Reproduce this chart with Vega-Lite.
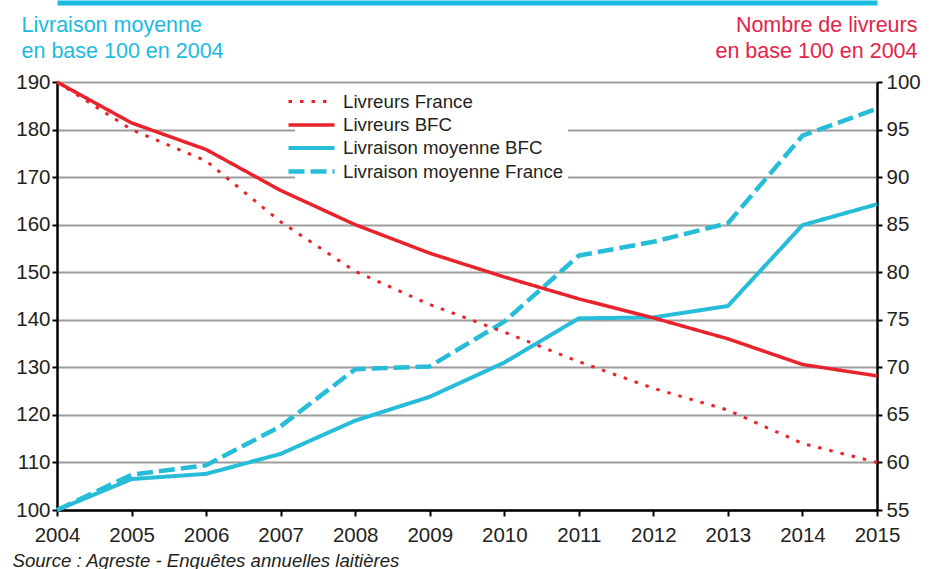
{
  "$schema": "https://vega.github.io/schema/vega-lite/v6.json",
  "width": 820,
  "height": 428,
  "autosize": {"type": "none"},
  "padding": {"left": 57, "top": 82, "right": 60, "bottom": 59},
  "background": "white",
  "config": {
    "font": "Liberation Sans",
    "view": {"stroke": null},
    "axis": {"labelColor": "#231F20", "labelFont": "Liberation Sans", "titleFont": "Liberation Sans", "titleFontWeight": "normal"}
  },
  "data": {
    "values": [
      {"annee": 2004, "serie": "Livraison moyenne France", "valeur": 100},
      {"annee": 2005, "serie": "Livraison moyenne France", "valeur": 107.4},
      {"annee": 2006, "serie": "Livraison moyenne France", "valeur": 109.4},
      {"annee": 2007, "serie": "Livraison moyenne France", "valeur": 117.6},
      {"annee": 2008, "serie": "Livraison moyenne France", "valeur": 129.6},
      {"annee": 2009, "serie": "Livraison moyenne France", "valeur": 130.2},
      {"annee": 2010, "serie": "Livraison moyenne France", "valeur": 139.6},
      {"annee": 2011, "serie": "Livraison moyenne France", "valeur": 153.5},
      {"annee": 2012, "serie": "Livraison moyenne France", "valeur": 156.4},
      {"annee": 2013, "serie": "Livraison moyenne France", "valeur": 160.3},
      {"annee": 2014, "serie": "Livraison moyenne France", "valeur": 178.7},
      {"annee": 2015, "serie": "Livraison moyenne France", "valeur": 184.4},
      {"annee": 2004, "serie": "Livraison moyenne BFC", "valeur": 100},
      {"annee": 2005, "serie": "Livraison moyenne BFC", "valeur": 106.5},
      {"annee": 2006, "serie": "Livraison moyenne BFC", "valeur": 107.6},
      {"annee": 2007, "serie": "Livraison moyenne BFC", "valeur": 111.8},
      {"annee": 2008, "serie": "Livraison moyenne BFC", "valeur": 118.8},
      {"annee": 2009, "serie": "Livraison moyenne BFC", "valeur": 123.8},
      {"annee": 2010, "serie": "Livraison moyenne BFC", "valeur": 131.0},
      {"annee": 2011, "serie": "Livraison moyenne BFC", "valeur": 140.3},
      {"annee": 2012, "serie": "Livraison moyenne BFC", "valeur": 140.5},
      {"annee": 2013, "serie": "Livraison moyenne BFC", "valeur": 142.9},
      {"annee": 2014, "serie": "Livraison moyenne BFC", "valeur": 159.9},
      {"annee": 2015, "serie": "Livraison moyenne BFC", "valeur": 164.3},
      {"annee": 2004, "serie": "Livreurs BFC", "valeur": 100},
      {"annee": 2005, "serie": "Livreurs BFC", "valeur": 95.7},
      {"annee": 2006, "serie": "Livreurs BFC", "valeur": 92.9},
      {"annee": 2007, "serie": "Livreurs BFC", "valeur": 88.6},
      {"annee": 2008, "serie": "Livreurs BFC", "valeur": 85.0},
      {"annee": 2009, "serie": "Livreurs BFC", "valeur": 82.0},
      {"annee": 2010, "serie": "Livreurs BFC", "valeur": 79.5},
      {"annee": 2011, "serie": "Livreurs BFC", "valeur": 77.2},
      {"annee": 2012, "serie": "Livreurs BFC", "valeur": 75.2},
      {"annee": 2013, "serie": "Livreurs BFC", "valeur": 73.0},
      {"annee": 2014, "serie": "Livreurs BFC", "valeur": 70.3},
      {"annee": 2015, "serie": "Livreurs BFC", "valeur": 69.1},
      {"annee": 2004, "serie": "Livreurs France", "valeur": 100},
      {"annee": 2005, "serie": "Livreurs France", "valeur": 95.0},
      {"annee": 2006, "serie": "Livreurs France", "valeur": 91.7},
      {"annee": 2007, "serie": "Livreurs France", "valeur": 85.3},
      {"annee": 2008, "serie": "Livreurs France", "valeur": 80.1},
      {"annee": 2009, "serie": "Livreurs France", "valeur": 76.6},
      {"annee": 2010, "serie": "Livreurs France", "valeur": 73.7},
      {"annee": 2011, "serie": "Livreurs France", "valeur": 70.6},
      {"annee": 2012, "serie": "Livreurs France", "valeur": 67.8},
      {"annee": 2013, "serie": "Livreurs France", "valeur": 65.5},
      {"annee": 2014, "serie": "Livreurs France", "valeur": 62.0},
      {"annee": 2015, "serie": "Livreurs France", "valeur": 60.0}
    ]
  },
  "encoding": {
    "color": {
      "field": "serie", "type": "nominal", "title": null,
      "scale": {
        "domain": ["Livreurs France", "Livreurs BFC", "Livraison moyenne BFC", "Livraison moyenne France"],
        "range": ["#E8232B", "#E8232B", "#27BDD9", "#27BDD9"]
      },
      "legend": {
        "orient": "none", "legendX": 238, "legendY": 4,
        "fillColor": "white", "padding": 4,
        "symbolType": "M-2.3,0H2.3", "symbolSize": 400, "symbolStrokeWidth": 4.5,
        "labelFontSize": 18.7, "labelColor": "#231F20", "labelFont": "Liberation Sans",
        "labelOffset": 19, "rowPadding": 1, "labelLimit": 400
      }
    },
    "strokeDash": {
      "field": "serie", "type": "nominal", "title": null,
      "scale": {
        "domain": ["Livreurs France", "Livreurs BFC", "Livraison moyenne BFC", "Livraison moyenne France"],
        "range": [[3.5, 8], [1, 0], [1, 0], [16, 6]]
      }
    },
    "strokeWidth": {
      "field": "serie", "type": "nominal", "legend": null,
      "scale": {
        "domain": ["Livreurs France", "Livreurs BFC", "Livraison moyenne BFC", "Livraison moyenne France"],
        "range": [3, 4.5, 3.7, 5]
      }
    }
  },
  "layer": [
    {
      "transform": [{"filter": {"field": "serie", "oneOf": ["Livraison moyenne BFC", "Livraison moyenne France"]}}],
      "mark": {"type": "line", "strokeCap": "butt", "strokeJoin": "round"},
      "encoding": {
        "x": {
          "field": "annee", "type": "quantitative",
          "scale": {"domain": [2004, 2015], "nice": false, "zero": false},
          "axis": {
            "orient": "bottom", "values": [2004, 2005, 2006, 2007, 2008, 2009, 2010, 2011, 2012, 2013, 2014, 2015],
            "format": "d", "grid": false,
            "domainColor": "#000000", "domainWidth": 2.5,
            "tickColor": "#000000", "tickWidth": 2, "tickSize": 6,
            "labelFontSize": 20.5, "labelPadding": 9, "labelFlush": false,
            "title": "Source : Agreste - Enquêtes annuelles laitières",
            "titleFontStyle": "italic", "titleFontSize": 18.6, "titleColor": "#231F20",
            "titleAlign": "left", "titleAnchor": "start", "titleBaseline": "alphabetic",
            "titleX": -45, "titleY": 56
          }
        },
        "y": {
          "field": "valeur", "type": "quantitative",
          "scale": {"domain": [100, 190], "nice": false, "zero": false},
          "axis": {
            "orient": "left", "values": [100, 110, 120, 130, 140, 150, 160, 170, 180, 190],
            "grid": true, "gridColor": "#9D9D9D", "gridWidth": 2,
            "domainColor": "#000000", "domainWidth": 2.5,
            "tickColor": "#000000", "tickWidth": 2, "tickSize": 5,
            "labelFontSize": 20.5, "labelPadding": 2,
            "title": ["Livraison moyenne", "en base 100 en 2004"],
            "titleColor": "#1DBADF", "titleFontSize": 21.5, "titleAngle": 0,
            "titleAlign": "left", "titleBaseline": "alphabetic",
            "titleX": -36, "titleY": -51, "titleLineHeight": 26.5
          }
        }
      }
    },
    {
      "transform": [{"filter": {"field": "serie", "oneOf": ["Livreurs BFC", "Livreurs France"]}}],
      "mark": {"type": "line", "strokeCap": "butt", "strokeJoin": "round"},
      "encoding": {
        "x": {
          "field": "annee", "type": "quantitative",
          "scale": {"domain": [2004, 2015], "nice": false, "zero": false},
          "axis": {
            "orient": "top", "offset": 79.5, "domainColor": "#1DBADF", "domainWidth": 5,
            "ticks": false, "labels": false, "grid": false, "title": null
          }
        },
        "y": {
          "field": "valeur", "type": "quantitative",
          "scale": {"domain": [55, 100], "nice": false, "zero": false},
          "axis": {
            "orient": "right", "values": [55, 60, 65, 70, 75, 80, 85, 90, 95, 100],
            "grid": false,
            "domainColor": "#000000", "domainWidth": 2.5,
            "tickColor": "#000000", "tickWidth": 2, "tickSize": 5,
            "labelFontSize": 20.5, "labelPadding": 4,
            "title": ["Nombre de livreurs", "en base 100 en 2004"],
            "titleColor": "#E4244B", "titleFontSize": 21.5, "titleAngle": 0,
            "titleAlign": "right", "titleBaseline": "alphabetic",
            "titleX": 40, "titleY": -51, "titleLineHeight": 26.5
          }
        }
      }
    }
  ],
  "resolve": {"scale": {"y": "independent"}, "axis": {"x": "independent"}}
}
